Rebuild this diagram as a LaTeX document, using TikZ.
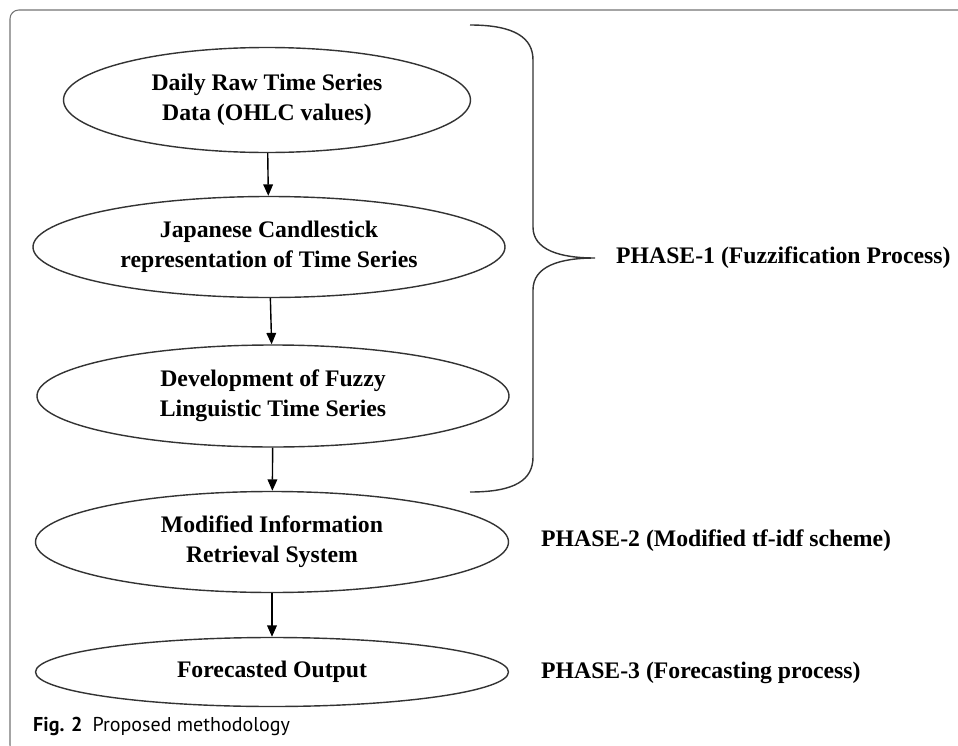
\documentclass[tikz,border=0pt]{standalone}
\usepackage{fontspec}
\setmainfont{Liberation Serif}
\newfontfamily\capfont{PT Sans}
\usetikzlibrary{shapes.geometric,arrows.meta}
\colorlet{frx}{black!55}

\begin{document}
\begin{tikzpicture}[
        stage/.style={ellipse,draw=black!80,line width=0.8pt,inner sep=0pt,
            align=center,font=\fontsize{13.5}{17}\selectfont\bfseries},
        phase/.style={anchor=west,font=\fontsize{13.5}{17}\selectfont\bfseries},
        flow/.style={-{Triangle[width=5.5pt,length=6.5pt]},line width=0.8pt}
    ]
            \useasboundingbox (0,0) rectangle (19.16,-14.92);
            \begin{scope}
                \clip (0,0) rectangle (19.16,-14.92);
                \draw [frx,line width=0.6pt,rounded corners=5pt] (19.8,-0.2) -- (0.2,-0.2) -- (0.2,-15.08) -- (19.8,-15.08);
            \end{scope}

            \node [stage,minimum width=8.14cm,minimum height=2.10cm] (raw) at (5.34,-2.00) {Daily Raw Time Series\\Data (OHLC values)};
            \node [stage,minimum width=9.44cm,minimum height=2.02cm] (candle) at (5.38,-4.94) {Japanese Candlestick\\representation of Time Series};
            \node [stage,minimum width=9.44cm,minimum height=2.04cm] (fuzzy) at (5.46,-7.92) {Development of Fuzzy\\Linguistic Time Series};
            \node [stage,minimum width=9.46cm,minimum height=2.02cm] (retr) at (5.44,-10.84) {Modified Information\\Retrieval System};
            \node [stage,minimum width=9.46cm,minimum height=1.38cm] (fcast) at (5.44,-13.44) {Forecasted Output};

            \foreach \a/\b in {raw/candle,candle/fuzzy,fuzzy/retr,retr/fcast} {
                \draw [flow] (\a) -- (\b);
            }

            % brace round phase 1
            \coordinate (tip) at (11.90,-5.16);
            \draw [black!80,line width=0.8pt] (9.40,-0.50) .. controls (10.30,-0.50) and (10.66,-0.76) .. (10.66,-1.20)
                -- (10.66,-4.54) .. controls (10.66,-5.00) and (11.20,-5.16) .. (tip)
                .. controls (11.20,-5.16) and (10.66,-5.32) .. (10.66,-5.80)
                -- (10.66,-9.14) .. controls (10.66,-9.60) and (10.30,-9.84) .. (9.40,-9.84);

            \node [phase] (ph1) at (12.20,-5.16) {PHASE-1 (Fuzzification Process)};
            \node [phase] (ph2) at (10.70,-10.82) {PHASE-2 (Modified tf-idf scheme)};
            \node [phase] (ph3) at (10.70,-13.46) {PHASE-3 (Forecasting process)};

            \node [anchor=base west,font=\capfont\fontsize{11.4}{14}\selectfont] (cap) at (0.54,-14.62) {\textbf{Fig. 2}\enspace Proposed methodology};
        \end{tikzpicture}
\end{document}
